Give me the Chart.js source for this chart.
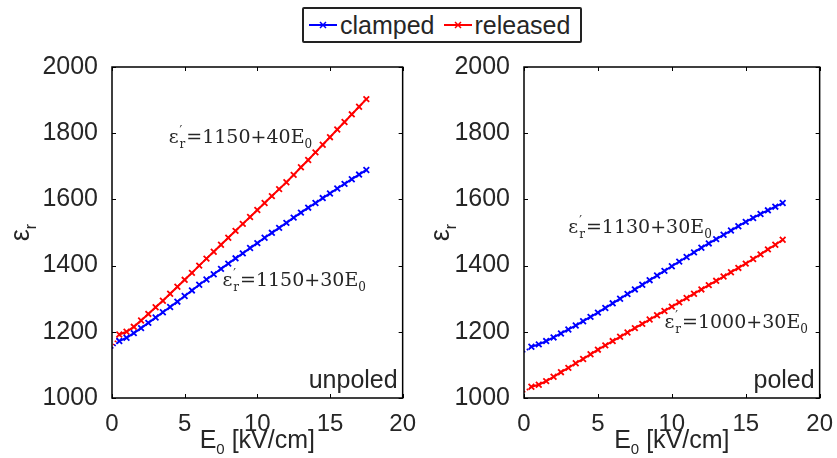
<!DOCTYPE html>
<html>
<head>
<meta charset="utf-8">
<script src="https://cdn.jsdelivr.net/npm/chart.js@4.4.1/dist/chart.umd.min.js"></script>
<style>
  body { margin: 0; background: #fff; }
  #wrap { position: relative; width: 837px; height: 458px; overflow: hidden; }
  canvas { position: absolute; top: 0; }
  #legend {
    position: absolute; left: 302px; top: 7px; width: 276px; height: 32px;
    border: 2px solid #222; border-radius: 2px; background: #fff;
    font: 25px "Liberation Sans", Arial, sans-serif; color: #262626;
    display: flex; align-items: center;
  }
  #legend svg { margin: 0 3px 0 5px; }
  #legend span { margin-right: 4px; }
</style>
</head>
<body>
<div id="wrap">
  <canvas id="left" width="420" height="458" style="left:0"></canvas>
  <canvas id="right" width="417" height="458" style="left:420px"></canvas>
  <div id="legend">
    <svg width="28" height="12"><line x1="0" y1="6" x2="28" y2="6" stroke="#0000ff" stroke-width="2"/><path d="M11 3L17 9M17 3L11 9" stroke="#0000ff" stroke-width="1.5"/></svg><span>clamped</span>
    <svg width="28" height="12"><line x1="0" y1="6" x2="28" y2="6" stroke="#ff0000" stroke-width="2"/><path d="M11 3L17 9M17 3L11 9" stroke="#ff0000" stroke-width="1.5"/></svg><span>released</span>
  </div>
</div>
<script>
// field strength E0 in kV/cm
const eField = [0, 0.5, 1, 1.5, 2, 2.5, 3, 3.5, 4, 4.5, 5, 5.5, 6, 6.5, 7, 7.5, 8, 8.5,
  9, 9.5, 10, 10.5, 11, 11.5, 12, 12.5, 13, 13.5, 14, 14.5, 15, 15.5, 16, 16.5, 17, 17.5];

// unpoled sample
const unpoledClamped = [1150, 1172, 1182, 1196, 1211, 1227, 1243, 1259, 1275, 1291, 1308, 1325,
  1342, 1358, 1374, 1390, 1406, 1422, 1437, 1453, 1468, 1484, 1499, 1514, 1529, 1545, 1560, 1575,
  1589, 1604, 1618, 1633, 1647, 1661, 1675, 1689];
const unpoledReleased = [1150, 1192, 1200, 1215, 1234, 1254, 1274, 1294, 1315, 1336, 1357, 1378,
  1400, 1421, 1442, 1463, 1484, 1505, 1526, 1547, 1568, 1589, 1610, 1631, 1652, 1674, 1697, 1719,
  1742, 1765, 1788, 1811, 1834, 1857, 1880, 1903];

// poled sample
const poledClamped = [1139, 1155, 1162, 1172, 1183, 1195, 1207, 1219, 1232, 1245, 1258, 1272,
  1286, 1300, 1314, 1328, 1342, 1356, 1370, 1384, 1398, 1412, 1426, 1440, 1454, 1467, 1480, 1493,
  1506, 1519, 1532, 1544, 1556, 1567, 1578, 1589];
const poledReleased = [1018, 1034, 1040, 1051, 1064, 1078, 1091, 1105, 1118, 1132, 1146, 1159,
  1172, 1185, 1198, 1211, 1224, 1237, 1250, 1263, 1276, 1289, 1302, 1315, 1328, 1341, 1354, 1367,
  1380, 1393, 1406, 1420, 1434, 1449, 1463, 1478];

const xTicks = [0, 5, 10, 15, 20];
const yTicks = [1000, 1200, 1400, 1600, 1800, 2000];

// fitted lines written on each panel: [E0, eps, intercept, slope]
const unpoledFits = [[3.9, 1770, '1150', '40'], [7.6, 1338, '1150', '30']];
const poledFits = [[3.0, 1498, '1130', '30'], [9.5, 1211, '1000', '30']];

const SANS = '"Liberation Sans", Arial, sans-serif';
const SERIF = '"DejaVu Serif", serif';
const TEXT = '#262626';

function series(label, color, ys) {
  return {
    label,
    data: eField.map((e, i) => ({ x: e, y: ys[i] })),
    borderColor: color,
    backgroundColor: color,
    borderWidth: 2,
    pointStyle: 'crossRot',
    pointRadius: ctx => (ctx.dataIndex === 0 ? 0 : 4),
    pointBorderWidth: 1.8,
    tension: 0,
    segment: { borderDash: ctx => (ctx.p0DataIndex === 0 ? [1.5, 2] : undefined) }
  };
}

// epsilon'_r = a + b E_0 in serif
function drawFit(ctx, x, y, a, b) {
  ctx.save();
  ctx.fillStyle = TEXT;
  ctx.textBaseline = 'alphabetic';
  ctx.textAlign = 'left';
  ctx.font = '19px ' + SERIF;
  ctx.fillText('ε', x, y);
  x += ctx.measureText('ε').width + 1;
  ctx.font = '12px ' + SERIF;
  ctx.fillText('′', x, y - 8);
  ctx.fillText('r', x, y + 5);
  x += ctx.measureText('r').width + 1;
  ctx.font = '19px ' + SERIF;
  const main = '=' + a + '+' + b + 'E';
  ctx.fillText(main, x, y);
  x += ctx.measureText(main).width;
  ctx.font = '12px ' + SERIF;
  ctx.fillText('0', x, y + 5);
  ctx.restore();
}

function framePlugin(fits, tag) {
  return {
    id: 'frame',
    afterDraw(chart) {
      const { ctx, chartArea: a, scales } = chart;
      ctx.save();
      ctx.strokeStyle = '#000';
      ctx.lineWidth = 1.5;
      ctx.strokeRect(a.left, a.top, a.right - a.left, a.bottom - a.top);
      // inward ticks on all four sides
      ctx.lineWidth = 1;
      ctx.beginPath();
      xTicks.forEach(v => {
        const px = Math.round(scales.x.getPixelForValue(v)) + 0.5;
        ctx.moveTo(px, a.bottom); ctx.lineTo(px, a.bottom - 4);
        ctx.moveTo(px, a.top); ctx.lineTo(px, a.top + 4);
      });
      yTicks.forEach(v => {
        const py = Math.round(scales.y.getPixelForValue(v)) + 0.5;
        ctx.moveTo(a.left, py); ctx.lineTo(a.left + 4, py);
        ctx.moveTo(a.right, py); ctx.lineTo(a.right - 4, py);
      });
      ctx.stroke();

      // x title: E_0 [kV/cm]
      ctx.fillStyle = TEXT;
      ctx.textBaseline = 'alphabetic';
      ctx.textAlign = 'left';
      ctx.font = '25px ' + SANS;
      const w1 = ctx.measureText('E').width;
      const rest = ' [kV/cm]';
      const w3 = ctx.measureText(rest).width;
      ctx.font = '15px ' + SANS;
      const w2 = ctx.measureText('0').width;
      const tx = (a.left + a.right) / 2 - (w1 + w2 + w3) / 2;
      const ty = 448;
      ctx.font = '25px ' + SANS;
      ctx.fillText('E', tx, ty);
      ctx.font = '15px ' + SANS;
      ctx.fillText('0', tx + w1, ty + 6);
      ctx.font = '25px ' + SANS;
      ctx.fillText(rest, tx + w1 + w2, ty);

      // y title: epsilon_r, rotated
      ctx.save();
      ctx.translate(29, (a.top + a.bottom) / 2);
      ctx.rotate(-Math.PI / 2);
      ctx.font = '27px ' + SANS;
      const we = ctx.measureText('ε').width;
      ctx.font = '16px ' + SANS;
      const wr = ctx.measureText('r').width;
      ctx.font = '27px ' + SANS;
      ctx.fillText('ε', -(we + wr) / 2, 0);
      ctx.font = '16px ' + SANS;
      ctx.fillText('r', -(we + wr) / 2 + we, 7);
      ctx.restore();

      // fitted-line labels
      fits.forEach(([e, v, a0, b0]) => {
        drawFit(ctx, scales.x.getPixelForValue(e), scales.y.getPixelForValue(v), a0, b0);
      });

      // panel tag
      ctx.font = '25px ' + SANS;
      ctx.textAlign = 'right';
      ctx.fillText(tag, a.right - 5, a.bottom - 10);
      ctx.restore();
    }
  };
}

function makePanel(id, blue, red, fits, tag, yWidth, padRight) {
  new Chart(document.getElementById(id), {
    type: 'line',
    data: { datasets: [series('clamped', '#0000ff', blue), series('released', '#ff0000', red)] },
    options: {
      responsive: false,
      animation: false,
      devicePixelRatio: 1,
      layout: { padding: { top: 67, right: padRight, left: 0, bottom: 0 } },
      plugins: { legend: { display: false }, tooltip: { enabled: false } },
      scales: {
        x: {
          type: 'linear', min: 0, max: 20,
          afterBuildTicks: s => { s.ticks = xTicks.map(v => ({ value: v })); },
          afterFit: s => { s.height = 60; },
          grid: { display: false }, border: { display: false },
          ticks: { color: TEXT, font: { family: SANS, size: 24 }, padding: 4, maxRotation: 0,
            callback: v => String(v) }
        },
        y: {
          type: 'linear', min: 1000, max: 2000,
          afterBuildTicks: s => { s.ticks = yTicks.map(v => ({ value: v })); },
          afterFit: s => { s.width = yWidth; },
          grid: { display: false }, border: { display: false },
          ticks: { color: TEXT, font: { family: SANS, size: 25 }, padding: 6,
            callback: v => String(v) }
        }
      }
    },
    plugins: [framePlugin(fits, tag)]
  });
}

makePanel('left', unpoledClamped, unpoledReleased, unpoledFits, 'unpoled', 112, 11);
makePanel('right', poledClamped, poledReleased, poledFits, 'poled', 104, 14);
</script>
</body>
</html>
